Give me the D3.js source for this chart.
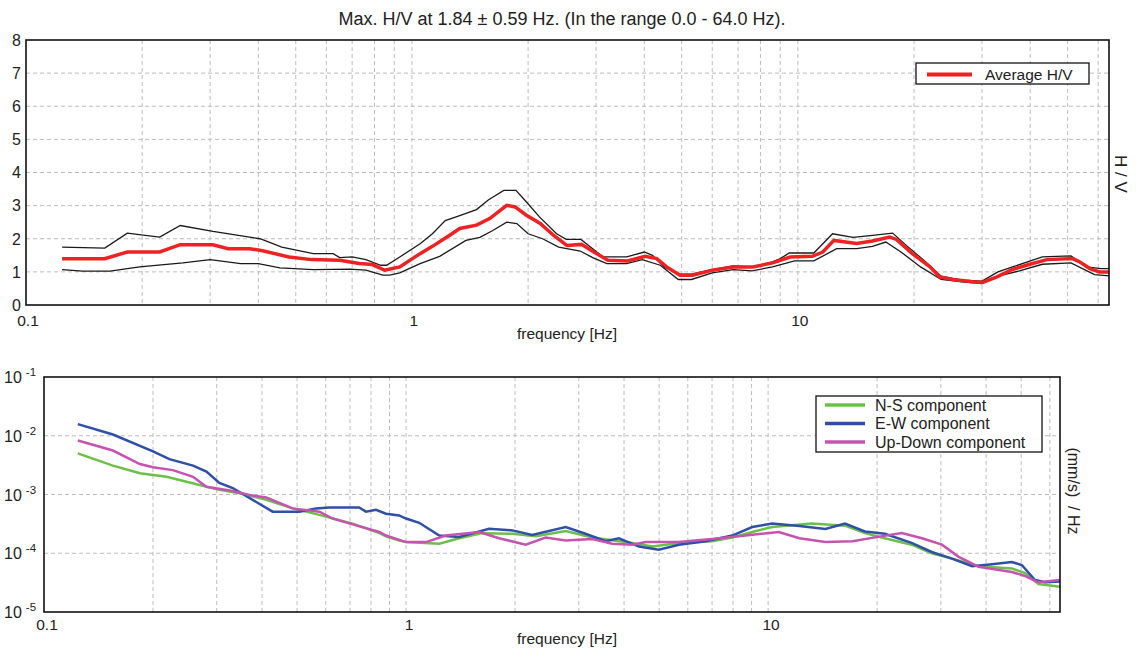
<!DOCTYPE html>
<html>
<head>
<meta charset="utf-8">
<script src="https://cdn.jsdelivr.net/npm/d3@7"></script>
<style>
  body { margin: 0; background: #fff; }
  svg { font-family: "Liberation Sans", Arial, sans-serif; }
</style>
</head>
<body>
<div id="chart"></div>
<script>
// H/V curve (average) and its +/- std limits, [frequency Hz, H/V]
const hvAvg = [
  [0.124, 1.40], [0.160, 1.40], [0.183, 1.60], [0.222, 1.60], [0.251, 1.82], [0.305, 1.82],
  [0.334, 1.70], [0.38, 1.70], [0.41, 1.64], [0.48, 1.45], [0.55, 1.37], [0.65, 1.35],
  [0.73, 1.25], [0.79, 1.22], [0.85, 1.05], [0.89, 1.10], [0.93, 1.15], [1.05, 1.55],
  [1.13, 1.77], [1.25, 2.10], [1.33, 2.31], [1.47, 2.41], [1.59, 2.61], [1.76, 3.01],
  [1.85, 2.96], [1.98, 2.71], [2.15, 2.46], [2.33, 2.10], [2.52, 1.80], [2.75, 1.83],
  [2.96, 1.60], [3.22, 1.35], [3.62, 1.33], [4.02, 1.47], [4.31, 1.40], [4.57, 1.15],
  [4.95, 0.90], [5.33, 0.90], [6.0, 1.05], [6.78, 1.15], [7.65, 1.15], [8.6, 1.27],
  [9.55, 1.45], [10.9, 1.47], [11.6, 1.60], [12.4, 1.95], [14.2, 1.86], [15.6, 1.93],
  [17.3, 2.05], [18.0, 1.98], [19.8, 1.55], [22.0, 1.15], [23.3, 0.85], [25.2, 0.77],
  [28.4, 0.70], [30.1, 0.68], [32.8, 0.85], [36.1, 1.08], [39.9, 1.23], [44.2, 1.37],
  [51.5, 1.40], [53.8, 1.30], [57.1, 1.10], [60.5, 1.00], [64.0, 1.00]
];
const hvUpper = [
  [0.124, 1.75], [0.160, 1.72], [0.183, 2.17], [0.222, 2.05], [0.251, 2.40], [0.305, 2.22],
  [0.404, 2.00], [0.46, 1.75], [0.555, 1.55], [0.625, 1.55], [0.65, 1.43], [0.70, 1.45],
  [0.76, 1.37], [0.83, 1.20], [0.86, 1.20], [0.93, 1.45], [1.05, 1.85], [1.13, 2.15],
  [1.22, 2.55], [1.33, 2.70], [1.47, 2.88], [1.58, 3.18], [1.73, 3.46], [1.86, 3.46],
  [1.98, 3.11], [2.14, 2.66], [2.37, 2.15], [2.51, 1.98], [2.74, 1.98], [2.94, 1.70],
  [3.13, 1.45], [3.6, 1.45], [4.0, 1.60], [4.2, 1.50], [4.5, 1.15], [4.9, 0.93],
  [5.3, 0.93], [6.0, 1.07], [6.8, 1.18], [7.6, 1.15], [8.6, 1.30], [9.0, 1.40],
  [9.5, 1.57], [11.0, 1.57], [12.3, 2.15], [13.9, 2.04], [15.6, 2.10], [17.6, 2.17],
  [19.1, 1.80], [21.2, 1.35], [23.5, 0.87], [26.6, 0.75], [30.0, 0.72], [33.0, 1.00],
  [36.0, 1.15], [43.0, 1.45], [51.0, 1.48], [56.0, 1.15], [61.0, 1.10], [64.0, 1.10]
];
const hvLower = [
  [0.124, 1.07], [0.14, 1.02], [0.165, 1.02], [0.197, 1.15], [0.255, 1.27], [0.30, 1.37],
  [0.36, 1.25], [0.40, 1.25], [0.455, 1.12], [0.555, 1.07], [0.69, 1.08], [0.76, 1.05],
  [0.84, 0.90], [0.875, 0.90], [0.93, 0.97], [1.05, 1.25], [1.18, 1.47], [1.38, 1.95],
  [1.50, 2.04], [1.62, 2.25], [1.76, 2.50], [1.87, 2.46], [2.0, 2.15], [2.18, 2.00],
  [2.4, 1.75], [2.73, 1.63], [2.94, 1.43], [3.2, 1.25], [3.6, 1.25], [3.95, 1.37],
  [4.4, 1.20], [4.9, 0.77], [5.3, 0.77], [6.0, 0.97], [6.8, 1.07], [7.6, 1.03],
  [8.6, 1.15], [9.8, 1.33], [11.0, 1.33], [12.6, 1.70], [14.2, 1.70], [15.6, 1.77],
  [16.9, 1.90], [18.5, 1.60], [20.8, 1.15], [23.5, 0.77], [26.6, 0.70], [30.0, 0.65],
  [33.0, 0.87], [37.5, 1.03], [43.0, 1.23], [51.0, 1.27], [58.7, 0.92], [64.0, 0.88]
];

// spectra of the single components, [frequency Hz, (mm/s)^2/Hz]
const nsComp = [
  [0.124, 5.0e-3], [0.155, 3.1e-3], [0.184, 2.3e-3], [0.218, 2.0e-3], [0.269, 1.45e-3],
  [0.305, 1.2e-3], [0.347, 1.05e-3], [0.411, 8.1e-4], [0.486, 5.8e-4], [0.576, 4.5e-4],
  [0.712, 3.2e-4], [0.844, 2.2e-4], [0.88, 1.95e-4], [0.957, 1.65e-4], [1.0, 1.55e-4],
  [1.235, 1.45e-4], [1.402, 1.8e-4], [1.625, 2.2e-4], [1.967, 2.15e-4], [2.28, 1.95e-4],
  [2.76, 2.4e-4], [3.27, 1.85e-4], [4.22, 1.5e-4], [4.79, 1.3e-4], [5.67, 1.5e-4],
  [7.0, 1.6e-4], [7.96, 1.85e-4], [9.04, 2.3e-4], [10.26, 2.8e-4], [13.2, 3.2e-4],
  [16.3, 2.95e-4], [18.5, 2.2e-4], [21.0, 1.8e-4], [24.9, 1.4e-4], [28.3, 1.0e-4],
  [32.2, 8.1e-5], [38.1, 6.0e-5], [47.1, 5.5e-5], [51.3, 4.6e-5], [55.8, 3.0e-5], [64.0, 2.7e-5]
];
const ewComp = [
  [0.124, 1.58e-2], [0.155, 1.05e-2], [0.200, 5.4e-3], [0.222, 4.0e-3], [0.258, 3.1e-3],
  [0.281, 2.45e-3], [0.305, 1.58e-3], [0.332, 1.29e-3], [0.377, 8.1e-4], [0.428, 5.1e-4],
  [0.508, 5.1e-4], [0.564, 5.8e-4], [0.614, 6.0e-4], [0.742, 6.0e-4], [0.775, 5.1e-4],
  [0.826, 5.5e-4], [0.88, 4.7e-4], [0.957, 4.4e-4], [1.0, 3.9e-4], [1.087, 3.3e-4],
  [1.235, 2.0e-4], [1.402, 1.9e-4], [1.696, 2.6e-4], [1.967, 2.45e-4], [2.23, 2.05e-4],
  [2.76, 2.8e-4], [3.13, 2.15e-4], [3.56, 1.6e-4], [3.87, 1.8e-4], [4.40, 1.3e-4],
  [4.99, 1.15e-4], [5.67, 1.4e-4], [6.72, 1.6e-4], [7.96, 2.0e-4], [9.04, 2.8e-4],
  [10.26, 3.2e-4], [12.2, 2.9e-4], [14.4, 2.6e-4], [16.3, 3.2e-4], [18.5, 2.35e-4],
  [21.0, 2.15e-4], [24.9, 1.5e-4], [28.3, 1.05e-4], [32.2, 8.1e-5], [36.6, 6.0e-5],
  [41.5, 6.5e-5], [47.1, 7.1e-5], [50.2, 6.3e-5], [54.6, 3.5e-5], [58.2, 3.2e-5], [64.0, 3.3e-5]
];
const udComp = [
  [0.124, 8.3e-3], [0.155, 5.6e-3], [0.184, 3.3e-3], [0.200, 2.9e-3], [0.227, 2.6e-3],
  [0.258, 2.0e-3], [0.281, 1.35e-3], [0.332, 1.15e-3], [0.369, 9.8e-4], [0.411, 8.9e-4],
  [0.486, 5.8e-4], [0.576, 5.1e-4], [0.627, 3.9e-4], [0.712, 3.1e-4], [0.844, 2.3e-4],
  [0.88, 2.0e-4], [1.0, 1.55e-4], [1.135, 1.55e-4], [1.288, 2.0e-4], [1.592, 2.3e-4],
  [1.807, 1.8e-4], [2.14, 1.4e-4], [2.43, 1.85e-4], [2.76, 1.65e-4], [3.27, 1.75e-4],
  [3.71, 1.45e-4], [4.22, 1.4e-4], [4.59, 1.55e-4], [5.67, 1.55e-4], [7.0, 1.75e-4],
  [8.66, 2.0e-4], [10.7, 2.3e-4], [12.2, 1.8e-4], [14.4, 1.55e-4], [17.1, 1.6e-4],
  [20.1, 1.9e-4], [23.4, 2.2e-4], [26.6, 1.8e-4], [30.2, 1.4e-4], [33.6, 8.7e-5],
  [38.1, 5.9e-5], [47.1, 4.8e-5], [51.3, 4.1e-5], [55.8, 3.2e-5], [64.0, 3.5e-5]
];

const freqTicks = [0.1, 1, 10];
const hvTicks = [0, 1, 2, 3, 4, 5, 6, 7, 8];
const specExp = [-5, -4, -3, -2, -1];
const legendComp = ["N-S component", "E-W component", "Up-Down component"];
const compColors = ["#6cc04a", "#2f4fa8", "#c653b0"];

const W = 1136, H = 649;
const svg = d3.select("#chart").append("svg").attr("width", W).attr("height", H);

// grid lines on every 1..9 multiple of each decade
const minorFreqs = [];
for (let d = 0.1; d < 100; d *= 10)
  for (let k = 1; k < 10; k++) if (k * d <= 64 && k * d > 0.1) minorFreqs.push(k * d);

function drawFrame(g, x, y, box, yGrid) {
  g.selectAll(".vgrid").data(minorFreqs).enter().append("line")
    .attr("x1", (d) => x(d)).attr("x2", (d) => x(d))
    .attr("y1", box.y0).attr("y2", box.y1)
    .attr("stroke", "#bdbdbd").attr("stroke-dasharray", "4,3");
  g.selectAll(".hgrid").data(yGrid).enter().append("line")
    .attr("x1", box.x0).attr("x2", box.x1)
    .attr("y1", (d) => y(d)).attr("y2", (d) => y(d))
    .attr("stroke", "#bdbdbd").attr("stroke-dasharray", "4,3");
}

function drawBorder(g, box) {
  g.append("rect")
    .attr("x", box.x0).attr("y", box.y0)
    .attr("width", box.x1 - box.x0).attr("height", box.y1 - box.y0)
    .attr("fill", "none").attr("stroke", "#111").attr("stroke-width", 1.6);
}

// ---------- top panel: H/V ----------
const boxTop = { x0: 26, x1: 1109, y0: 40, y1: 305 };
const xTop = d3.scaleLog().domain([0.1, 64]).range([boxTop.x0, boxTop.x1]);
const yTop = d3.scaleLinear().domain([0, 8]).range([boxTop.y1, boxTop.y0]);
const gTop = svg.append("g");

drawFrame(gTop, xTop, yTop, boxTop, hvTicks.slice(1, -1));

const lineTop = d3.line().x((d) => xTop(d[0])).y((d) => yTop(d[1]));
[hvUpper, hvLower].forEach((s) => {
  gTop.append("path").datum(s).attr("d", lineTop)
    .attr("fill", "none").attr("stroke", "#1a1a1a").attr("stroke-width", 1.3);
});
gTop.append("path").datum(hvAvg).attr("d", lineTop)
  .attr("fill", "none").attr("stroke", "#ee2222").attr("stroke-width", 3.5);

drawBorder(gTop, boxTop);

gTop.selectAll(".ytl").data(hvTicks).enter().append("text")
  .attr("x", 21).attr("y", (d) => yTop(d)).attr("dy", "0.36em")
  .attr("text-anchor", "end").attr("font-size", 16).attr("fill", "#222")
  .text((d) => d);
gTop.selectAll(".xtl").data(freqTicks).enter().append("text")
  .attr("x", (d) => xTop(d) + 2).attr("y", 326)
  .attr("text-anchor", "middle").attr("font-size", 15.5).attr("fill", "#222")
  .text((d) => d);
gTop.append("text").attr("x", 567).attr("y", 339).attr("text-anchor", "middle")
  .attr("font-size", 15.5).attr("fill", "#222").text("frequency [Hz]");
gTop.append("text").attr("x", 562).attr("y", 25).attr("text-anchor", "middle")
  .attr("font-size", 18).attr("fill", "#222")
  .text("Max. H/V at 1.84 ± 0.59 Hz. (In the range 0.0 - 64.0 Hz).");
gTop.append("text").attr("transform", "translate(1115,174) rotate(90)")
  .attr("text-anchor", "middle").attr("font-size", 17).attr("fill", "#222")
  .style("white-space", "pre").text("H / V");

// legend
gTop.append("rect").attr("x", 916).attr("y", 63).attr("width", 173).attr("height", 21)
  .attr("fill", "#fff").attr("stroke", "#111").attr("stroke-width", 1.3);
gTop.append("line").attr("x1", 927).attr("x2", 972).attr("y1", 74.5).attr("y2", 74.5)
  .attr("stroke", "#ee2222").attr("stroke-width", 4);
gTop.append("text").attr("x", 985).attr("y", 80).attr("font-size", 15.5)
  .attr("fill", "#222").text("Average H/V");

// ---------- bottom panel: spectra ----------
const boxBot = { x0: 44, x1: 1060, y0: 377, y1: 612 };
const xBot = d3.scaleLog().domain([0.1, 64]).range([boxBot.x0, boxBot.x1]);
const yBot = d3.scaleLog().domain([1e-5, 1e-1]).range([boxBot.y1, boxBot.y0]);
const gBot = svg.append("g");

drawFrame(gBot, xBot, yBot, boxBot, specExp.slice(1, -1).map((e) => Math.pow(10, e)));

const lineBot = d3.line().x((d) => xBot(d[0])).y((d) => yBot(d[1]));
[nsComp, ewComp, udComp].forEach((s, i) => {
  gBot.append("path").datum(s).attr("d", lineBot)
    .attr("fill", "none").attr("stroke", compColors[i]).attr("stroke-width", 2.5);
});

drawBorder(gBot, boxBot);

const ytl = gBot.selectAll(".ytl").data(specExp).enter().append("text")
  .attr("x", 4).attr("y", (d) => yBot(Math.pow(10, d)) + 6)
  .attr("font-size", 16).attr("fill", "#222");
ytl.append("tspan").text("10");
ytl.append("tspan").attr("dx", 4).attr("dy", -7).attr("font-size", 11.5).text((d) => d);

gBot.selectAll(".xtl").data(freqTicks).enter().append("text")
  .attr("x", (d) => xBot(d) + 3).attr("y", 630)
  .attr("text-anchor", "middle").attr("font-size", 15.5).attr("fill", "#222")
  .text((d) => d);
gBot.append("text").attr("x", 567).attr("y", 644).attr("text-anchor", "middle")
  .attr("font-size", 15.5).attr("fill", "#222").text("frequency [Hz]");
gBot.append("text").attr("transform", "translate(1068,491) rotate(90)")
  .attr("text-anchor", "middle").attr("font-size", 16).attr("fill", "#222")
  .style("white-space", "pre").text("(mm/s)  / Hz");

// legend
gBot.append("rect").attr("x", 816).attr("y", 396).attr("width", 226).attr("height", 56)
  .attr("fill", "#fff").attr("stroke", "#111").attr("stroke-width", 1.3);
legendComp.forEach((name, i) => {
  const ly = 405 + i * 18.5;
  gBot.append("line").attr("x1", 825).attr("x2", 865).attr("y1", ly).attr("y2", ly)
    .attr("stroke", compColors[i]).attr("stroke-width", 3.5);
  gBot.append("text").attr("x", 875).attr("y", ly + 5.5).attr("font-size", 16)
    .attr("fill", "#222").text(name);
});
</script>
</body>
</html>
